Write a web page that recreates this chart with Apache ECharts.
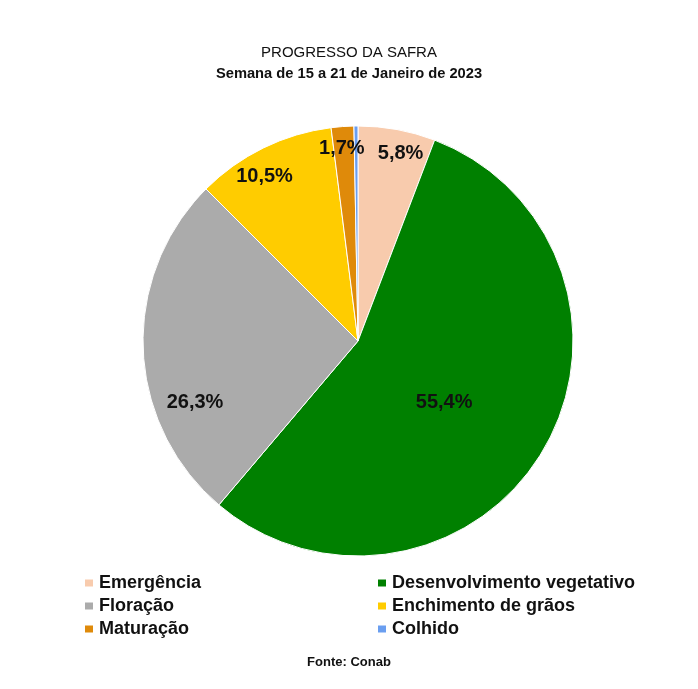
<!DOCTYPE html>
<html><head><meta charset="utf-8">
<script src="https://cdn.jsdelivr.net/npm/echarts@6/dist/echarts.min.js"></script>
<style>html,body{margin:0;padding:0;background:#fff}#c{width:698px;height:689px}</style>
</head><body><div id="c"></div>
<script>
var categories = ['Emergência','Desenvolvimento vegetativo','Floração','Enchimento de grãos','Maturação','Colhido'];
var values = [5.8, 55.4, 26.3, 10.5, 1.7, 0.3];
var colors = ['#F8CBAD','#008000','#ABABAB','#FFCC00','#DF8A0A','#6A9EF0'];
var legendLeft = ['Emergência','Floração','Maturação'];
var legendRight = ['Desenvolvimento vegetativo','Enchimento de grãos','Colhido'];

// which label ring each slice label sits on, and small nudges (px)
var labelRing = ['outer','inner','mid','outer','outer','none'];
var labelNudge = [[7,6],[-9,5],[14,54],[-7,12],[-2,3],[0,0]];

var font = 'Liberation Sans, Arial, sans-serif';
function fmt(v){ return v.toFixed(1).replace('.', ',') + '%'; }

var R = 215, C = [358, 341];
function labelSeries(ring, radius){
  return {
    type:'pie', silent:true, center:C, radius:radius, startAngle:90, clockwise:true,
    avoidLabelOverlap:false, animation:false,
    itemStyle:{color:'transparent', borderWidth:0},
    labelLine:{show:false},
    data: values.map(function(v,i){
      var show = labelRing[i] === ring;
      return {name:categories[i], value:v, label:{show:show, position:'inside', formatter:fmt(v),
        offset:labelNudge[i], color:'#111', fontSize:20, fontWeight:'bold', fontFamily:font}};
    })
  };
}

var legendText = {fontFamily:font, fontSize:18, fontWeight:'bold', color:'#111'};
var chart = echarts.init(document.getElementById('c'));
chart.setOption({
  animation:false,
  color: colors,
  title:[
    {text:'PROGRESSO DA SAFRA', left:'center', top:40,
     textStyle:{fontFamily:font, fontSize:15, fontWeight:'normal', color:'#111'}},
    {text:'Semana de 15 a 21 de Janeiro de 2023', left:'center', top:61,
     textStyle:{fontFamily:font, fontSize:14.7, fontWeight:'bold', color:'#111'}},
    {text:'Fonte: Conab', left:'center', top:651,
     textStyle:{fontFamily:font, fontSize:13, fontWeight:'bold', color:'#111'}}
  ],
  legend:[
    {orient:'vertical', left:78, top:569, data:legendLeft, icon:'rect', itemWidth:10, itemHeight:9, itemGap:5,
     selectedMode:false, textStyle:legendText},
    {orient:'vertical', left:371, top:569, data:legendRight, icon:'rect', itemWidth:10, itemHeight:9, itemGap:5,
     selectedMode:false, textStyle:legendText}
  ],
  series:[
    {type:'pie', center:C, radius:R, startAngle:90, clockwise:true, avoidLabelOverlap:false,
     itemStyle:{borderColor:'#fff', borderWidth:1},
     label:{show:false}, labelLine:{show:false},
     data: values.map(function(v,i){ return {name:categories[i], value:v}; })
    },
    labelSeries('outer', [R*0.8, R]),
    labelSeries('inner', [0, R]),
    labelSeries('mid', [R*0.7, R*0.92])
  ]
});
</script></body></html>
